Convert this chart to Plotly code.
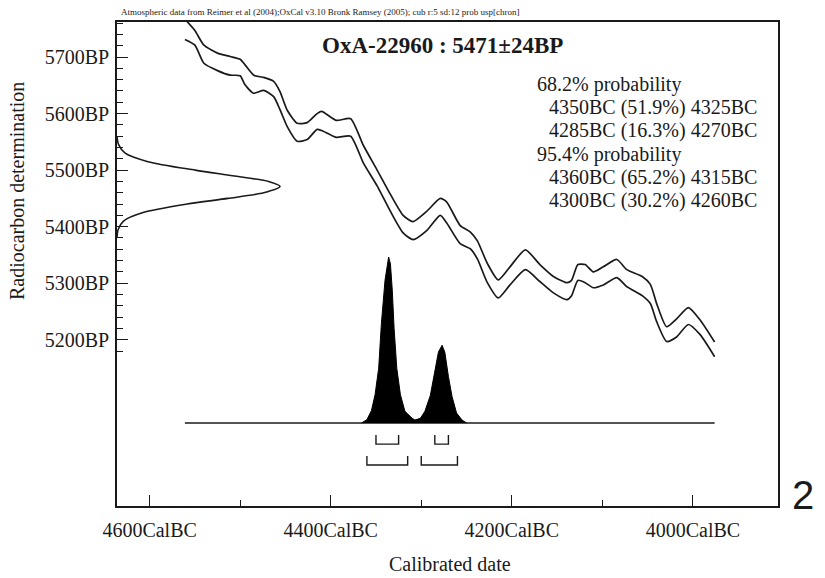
import plotly.graph_objects as go

# ---------------- data ----------------
# Calibration curve band (upper / lower 1-sigma lines), years BC vs BP
cal_bc = [4561, 4550, 4540, 4525, 4511, 4500, 4495, 4485, 4474, 4463,
          4456, 4448, 4437, 4426, 4415, 4410, 4394, 4378, 4364, 4349,
          4334, 4320, 4309, 4294, 4279, 4272, 4257, 4246, 4238, 4227,
          4215, 4202, 4185, 4169, 4154, 4139, 4134, 4127, 4119, 4110,
          4099, 4084, 4073, 4056, 4047, 4040, 4029, 4018, 4005, 3992, 3976]
cal_upper_bp = [5767, 5747, 5721, 5707, 5701, 5696, 5687, 5668, 5664, 5657,
                5639, 5606, 5583, 5584, 5600, 5604, 5588, 5591, 5544, 5501,
                5457, 5420, 5409, 5427, 5450, 5444, 5402, 5391, 5375, 5335,
                5306, 5329, 5359, 5333, 5312, 5301, 5305, 5333, 5333, 5320,
                5329, 5342, 5324, 5312, 5298, 5264, 5223, 5237, 5257, 5235, 5196]
cal_lower_bp = [5731, 5721, 5689, 5676, 5668, 5667, 5652, 5636, 5641, 5630,
                5607, 5577, 5551, 5554, 5572, 5570, 5558, 5560, 5513, 5473,
                5427, 5389, 5377, 5393, 5420, 5407, 5370, 5361, 5343, 5301,
                5274, 5297, 5324, 5303, 5283, 5271, 5278, 5305, 5301, 5292,
                5297, 5310, 5294, 5278, 5264, 5232, 5197, 5205, 5227, 5209, 5170]

# Radiocarbon measurement distribution (relative density) on the BP axis
meas_bp = [5560, 5545, 5530, 5515, 5500, 5490, 5480, 5471, 5460, 5450,
           5440, 5425, 5410, 5395, 5380]
meas_prob = [0.0, 0.01, 0.05, 0.19, 0.48, 0.71, 0.93, 1.0, 0.90, 0.68,
             0.43, 0.16, 0.04, 0.007, 0.0]

# Calibrated (posterior) distribution, relative probability
post_bc = [4366, 4360, 4355, 4351, 4347, 4344, 4340, 4336, 4334, 4332,
           4330, 4327, 4323, 4318, 4310, 4307, 4301, 4296, 4290, 4285,
           4281, 4277, 4274, 4270, 4266, 4261, 4255, 4250]
post_prob = [0.0, 0.02, 0.075, 0.17, 0.33, 0.60, 0.86, 1.0, 0.958, 0.80,
             0.57, 0.33, 0.17, 0.07, 0.028, 0.018, 0.028, 0.07, 0.165, 0.32,
             0.428, 0.468, 0.428, 0.28, 0.16, 0.06, 0.018, 0.0]

# Calibrated ranges
r68_from = [4350, 4285]
r68_to = [4325, 4270]
r68_pct = [51.9, 16.3]
r95_from = [4360, 4300]
r95_to = [4315, 4260]
r95_pct = [65.2, 30.2]

# Axis ticks
x_major = [4600, 4400, 4200, 4000]
x_minor = [4500, 4300, 4100]
y_major = [5200, 5300, 5400, 5500, 5600, 5700]
y_minor = [v for v in range(5180, 5781, 20) if v % 100 != 0]

lab_id = "OxA-22960"
lab_bp = 5471
lab_err = 24
header = ("Atmospheric data from Reimer et al (2004);OxCal v3.10 Bronk Ramsey (2005); "
          "cub r:5 sd:12 prob usp[chron]")

# ---------------- style / layout constants ----------------
SERIF = "Liberation Serif"
INK = "#1a1a1a"
W, H = 825, 578
ML, MR, MT, MB = 117, 47, 22, 72
PW, PH = W - ML - MR, H - MT - MB


def px(xp):
    return (xp - ML) / PW


def py(yp):
    return (H - MB - yp) / PH


# bracket levels (in yaxis2 units) for 68.2% and 95.4% ranges
B68_TOP, B68_BOT = -0.072, -0.127
B95_TOP, B95_BOT = -0.199, -0.253

fig = go.Figure()

# calibration curve band
for ys in (cal_upper_bp, cal_lower_bp):
    fig.add_trace(go.Scatter(
        x=cal_bc, y=ys, mode="lines",
        line=dict(color=INK, width=1.7, shape="spline", smoothing=0.6),
        hoverinfo="skip", showlegend=False))

# measurement gaussian on y axis
fig.add_trace(go.Scatter(
    x=meas_prob, y=meas_bp, xaxis="x2", yaxis="y", mode="lines",
    line=dict(color=INK, width=1.6, shape="spline", smoothing=0.8),
    hoverinfo="skip", showlegend=False))

# baseline for calibrated distribution
fig.add_trace(go.Scatter(
    x=[cal_bc[0], cal_bc[-1]], y=[0, 0], xaxis="x", yaxis="y2", mode="lines",
    line=dict(color=INK, width=1.6), hoverinfo="skip", showlegend=False))

# calibrated distribution (filled black)
fig.add_trace(go.Scatter(
    x=post_bc, y=post_prob, xaxis="x", yaxis="y2", mode="lines",
    fill="tozeroy", fillcolor="black",
    line=dict(color="black", width=1), hoverinfo="skip", showlegend=False))


# range brackets
def brackets(froms, tos, top, bot):
    xs, ys = [], []
    for a, b in zip(froms, tos):
        xs += [a, a, b, b, None]
        ys += [top, bot, bot, top, None]
    return xs, ys


for froms, tos, top, bot in ((r68_from, r68_to, B68_TOP, B68_BOT),
                             (r95_from, r95_to, B95_TOP, B95_BOT)):
    bx, by = brackets(froms, tos, top, bot)
    fig.add_trace(go.Scatter(
        x=bx, y=by, xaxis="x", yaxis="y2", mode="lines",
        line=dict(color=INK, width=1.4), hoverinfo="skip", showlegend=False))

axis_common = dict(
    showgrid=False, zeroline=False, showline=True, mirror=True,
    linecolor=INK, linewidth=1.6, ticks="inside", ticklen=11, tickwidth=1.4,
    tickcolor=INK, tickfont=dict(family=SERIF, size=20, color=INK),
)

fig.update_layout(
    width=W, height=H,
    margin=dict(l=ML, r=MR, t=MT, b=MB),
    paper_bgcolor="white", plot_bgcolor="white",
    font=dict(family=SERIF, color=INK),
    xaxis=dict(
        range=[4636, 3906],
        tickmode="array", tickvals=x_major,
        ticktext=[f"{v}CalBC" for v in x_major],
        minor=dict(tickmode="array", tickvals=x_minor, ticks="inside",
                   ticklen=6, tickwidth=1.4, tickcolor=INK),
        ticklabelstandoff=5,
        **axis_common),
    yaxis=dict(
        range=[4906, 5762],
        tickmode="array", tickvals=y_major,
        ticktext=[f"{v}BP" for v in y_major],
        minor=dict(tickmode="array", tickvals=y_minor, ticks="inside",
                   ticklen=6, tickwidth=1.4, tickcolor=INK),
        ticklabelstandoff=2,
        **axis_common),
    xaxis2=dict(overlaying="x", range=[0, 4.055], visible=False),
    yaxis2=dict(overlaying="y", range=[-0.5, 2.4155], visible=False),
)

anns = [
    dict(text=header, x=px(119), y=py(12), xanchor="left", yanchor="middle",
         font=dict(size=9, family=SERIF, color=INK)),
    dict(text=f"<b>{lab_id} : {lab_bp}\u00b1{lab_err}BP</b>", x=px(320), y=py(46),
         xanchor="left", yanchor="middle", font=dict(size=23, family=SERIF, color=INK)),
    dict(text="68.2% probability", x=px(535), y=py(84), xanchor="left", yanchor="middle",
         font=dict(size=20, family=SERIF, color=INK)),
    dict(text="95.4% probability", x=px(535), y=py(154), xanchor="left", yanchor="middle",
         font=dict(size=20, family=SERIF, color=INK)),
    dict(text="Radiocarbon determination", x=px(17), y=py(191), textangle=-90,
         xanchor="center", yanchor="middle",
         font=dict(size=20, family=SERIF, color=INK)),
    dict(text="Calibrated date", x=px(450), y=py(564), xanchor="center", yanchor="middle",
         font=dict(size=20, family=SERIF, color=INK)),
    dict(text="2", x=px(803), y=py(495), xanchor="center", yanchor="middle",
         font=dict(size=40, family="Liberation Sans", color=INK)),
]
for i, (a, b, p) in enumerate(zip(r68_from, r68_to, r68_pct)):
    anns.append(dict(text=f"{a}BC ({p}%) {b}BC", x=px(547), y=py(107 + 23.5 * i),
                     xanchor="left", yanchor="middle",
                     font=dict(size=20, family=SERIF, color=INK)))
for i, (a, b, p) in enumerate(zip(r95_from, r95_to, r95_pct)):
    anns.append(dict(text=f"{a}BC ({p}%) {b}BC", x=px(547), y=py(177 + 23.5 * i),
                     xanchor="left", yanchor="middle",
                     font=dict(size=20, family=SERIF, color=INK)))
for a in anns:
    a.update(xref="paper", yref="paper", showarrow=False)
fig.update_layout(annotations=anns)

fig.write_html("out.html")
